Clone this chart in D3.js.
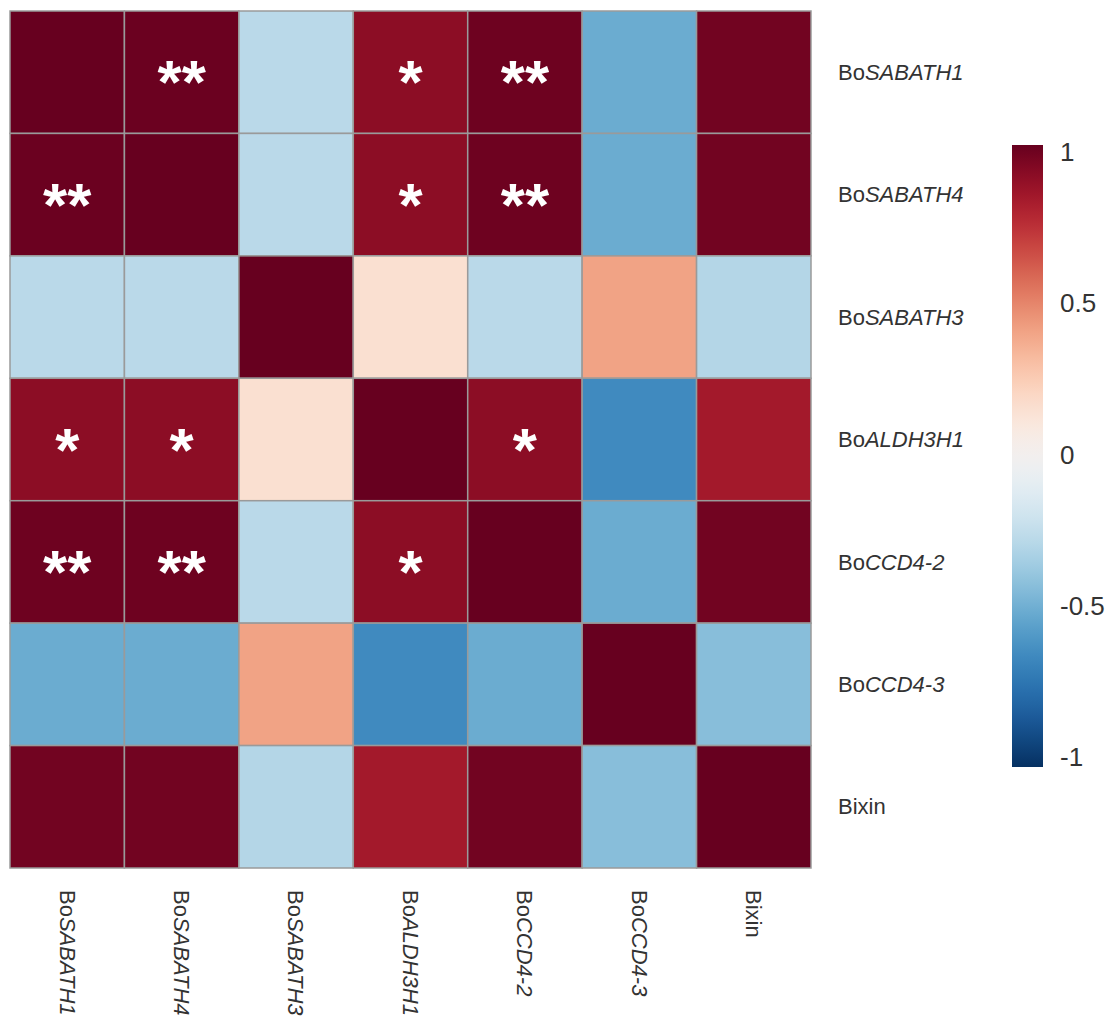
<!DOCTYPE html>
<html>
<head>
<meta charset="utf-8">
<script src="https://cdn.jsdelivr.net/npm/d3@7"></script>
<style>
  html, body { margin: 0; padding: 0; background: #fff; }
  svg { display: block; font-family: "Liberation Sans", Arial, Helvetica, sans-serif; }
</style>
</head>
<body>
<svg id="chart" width="1116" height="1016"></svg>
<script>
// Gene labels: plain prefix + italic gene symbol
const prefixes = ["Bo", "Bo", "Bo", "Bo", "Bo", "Bo", ""];
const genes    = ["SABATH1", "SABATH4", "SABATH3", "ALDH3H1", "CCD4-2", "CCD4-3", "Bixin"];
const italic   = [true, true, true, true, true, true, false];

// Pearson correlation matrix (rows and columns in the same order)
const rowSABATH1 = [ 1.00,  0.99, -0.27,  0.90,  0.98, -0.50,  0.97];
const rowSABATH4 = [ 0.99,  1.00, -0.27,  0.90,  0.98, -0.50,  0.97];
const rowSABATH3 = [-0.27, -0.27,  1.00,  0.15, -0.27,  0.40, -0.29];
const rowALDH3H1 = [ 0.90,  0.90,  0.15,  1.00,  0.90, -0.64,  0.83];
const rowCCD4_2  = [ 0.98,  0.98, -0.27,  0.90,  1.00, -0.50,  0.97];
const rowCCD4_3  = [-0.50, -0.50,  0.40, -0.64, -0.50,  1.00, -0.42];
const rowBixin   = [ 0.97,  0.97, -0.29,  0.83,  0.97, -0.42,  1.00];
const corr = [rowSABATH1, rowSABATH4, rowSABATH3, rowALDH3H1, rowCCD4_2, rowCCD4_3, rowBixin];

// Significance marks ("*" p<0.05, "**" p<0.01), row by row
const sigSABATH1 = ["", "**", "", "*", "**", "", ""];
const sigSABATH4 = ["**", "", "", "*", "**", "", ""];
const sigSABATH3 = ["", "", "", "", "", "", ""];
const sigALDH3H1 = ["*", "*", "", "", "*", "", ""];
const sigCCD4_2  = ["**", "**", "", "*", "", "", ""];
const sigCCD4_3  = ["", "", "", "", "", "", ""];
const sigBixin   = ["", "", "", "", "", "", ""];
const sig = [sigSABATH1, sigSABATH4, sigSABATH3, sigALDH3H1, sigCCD4_2, sigCCD4_3, sigBixin];

const legendTicks = [1, 0.5, 0, -0.5, -1];

const svg = d3.select("#chart");
const idx = d3.range(genes.length);

const x = d3.scaleBand().domain(idx).range([10, 811]);
const y = d3.scaleBand().domain(idx).range([11, 868]);
const color = v => d3.interpolateRdBu((1 - v) / 2);

const cells = [];
idx.forEach(r => idx.forEach(c => cells.push({ r, c, v: corr[r][c], s: sig[r][c] })));

// Heatmap tiles
svg.append("g").selectAll("rect").data(cells).join("rect")
  .attr("x", d => x(d.c))
  .attr("y", d => y(d.r))
  .attr("width", x.bandwidth())
  .attr("height", y.bandwidth())
  .attr("fill", d => color(d.v))
  .attr("stroke", "#9a9a9a")
  .attr("stroke-width", 1.5);

// Significance asterisks
svg.append("g").selectAll("text").data(cells.filter(d => d.s)).join("text")
  .attr("x", d => x(d.c) + x.bandwidth() / 2)
  .attr("y", d => y(d.r) + y.bandwidth() / 2 + 31)
  .attr("text-anchor", "middle")
  .attr("fill", "#fff")
  .attr("font-size", 62)
  .attr("font-weight", "bold")
  .text(d => d.s);

function geneLabel(sel, i) {
  sel.append("tspan").text(prefixes[i]);
  sel.append("tspan").attr("font-style", italic[i] ? "italic" : "normal").text(genes[i]);
}

// Row labels
svg.append("g").selectAll("text").data(idx).join("text")
  .attr("x", 838)
  .attr("y", i => y(i) + y.bandwidth() / 2)
  .attr("dy", "0.35em")
  .attr("font-size", 22)
  .attr("fill", "#333")
  .each(function (i) { geneLabel(d3.select(this), i); });

// Column labels, rotated to read downward
svg.append("g").selectAll("text").data(idx).join("text")
  .attr("transform", i => `translate(${x(i) + x.bandwidth() / 2},890) rotate(90)`)
  .attr("dy", "0.35em")
  .attr("font-size", 22)
  .attr("fill", "#333")
  .each(function (i) { geneLabel(d3.select(this), i); });

// Colour legend
const defs = svg.append("defs");
const grad = defs.append("linearGradient").attr("id", "rdbu")
  .attr("x1", 0).attr("y1", 0).attr("x2", 0).attr("y2", 1);
d3.range(0, 1.0001, 0.02).forEach(t => {
  grad.append("stop").attr("offset", t).attr("stop-color", d3.interpolateRdBu(t));
});
svg.append("rect")
  .attr("x", 1012).attr("y", 145)
  .attr("width", 31).attr("height", 622)
  .attr("fill", "url(#rdbu)");

const ly = d3.scaleLinear().domain([1, -1]).range([152, 757]);
svg.append("g").selectAll("text").data(legendTicks).join("text")
  .attr("x", 1060)
  .attr("y", d => ly(d))
  .attr("dy", "0.35em")
  .attr("font-size", 26)
  .attr("fill", "#333")
  .text(d => String(d));
</script>
</body>
</html>
